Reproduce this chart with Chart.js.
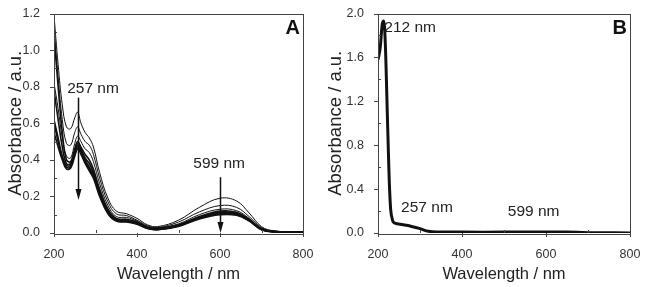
<!DOCTYPE html>
<html>
<head>
<meta charset="utf-8">
<script src="https://cdn.jsdelivr.net/npm/chart.js@4.4.0/dist/chart.umd.min.js"></script>
<style>
  body { margin: 0; background: #fff; }
  .panel { position: absolute; top: 0; height: 287px; }
  #wrapA { left: 0; width: 320px; }
  #wrapB { left: 320px; width: 327px; }
</style>
</head>
<body>
<div class="panel" id="wrapA"><canvas id="chartA" width="320" height="287"></canvas></div>
<div class="panel" id="wrapB"><canvas id="chartB" width="327" height="287"></canvas></div>
<script>
// panel A: spectra over time
const wlA = [200,210,220,230,240,250,257,265,275,285,295,310,330,350,375,400,425,450,500,550,600,640,670,700,730,800];
const a1 = [1.19,0.92,0.70,0.58,0.57,0.63,0.66,0.60,0.55,0.52,0.47,0.33,0.19,0.12,0.105,0.08,0.045,0.035,0.07,0.14,0.19,0.175,0.11,0.035,0.012,0.005];
const a2 = [1.12,0.85,0.62,0.49,0.48,0.55,0.58,0.54,0.50,0.48,0.43,0.30,0.17,0.105,0.095,0.07,0.04,0.03,0.06,0.115,0.15,0.14,0.09,0.03,0.01,0.005];
const a3 = [0.82,0.68,0.52,0.42,0.41,0.49,0.53,0.50,0.46,0.44,0.39,0.27,0.15,0.09,0.085,0.065,0.035,0.028,0.05,0.10,0.13,0.122,0.08,0.025,0.01,0.005];
const a4 = [1.08,0.80,0.55,0.40,0.39,0.46,0.50,0.47,0.43,0.40,0.35,0.24,0.13,0.08,0.075,0.06,0.032,0.025,0.045,0.09,0.12,0.113,0.075,0.022,0.008,0.004];
const a5 = [0.78,0.62,0.47,0.38,0.38,0.45,0.49,0.46,0.41,0.38,0.33,0.23,0.12,0.075,0.07,0.055,0.03,0.022,0.042,0.085,0.115,0.108,0.072,0.02,0.008,0.004];
const a6 = [0.62,0.52,0.42,0.37,0.37,0.44,0.48,0.45,0.40,0.36,0.32,0.22,0.115,0.07,0.065,0.052,0.028,0.02,0.04,0.082,0.11,0.104,0.07,0.02,0.007,0.004];
const a7 = [0.60,0.50,0.41,0.36,0.36,0.43,0.47,0.44,0.39,0.35,0.31,0.21,0.11,0.068,0.063,0.05,0.026,0.019,0.038,0.08,0.105,0.10,0.068,0.019,0.007,0.004];
const a8 = [0.55,0.47,0.40,0.35,0.355,0.42,0.46,0.43,0.38,0.34,0.30,0.20,0.105,0.065,0.06,0.048,0.025,0.018,0.036,0.077,0.10,0.097,0.066,0.018,0.006,0.003];
const seriesA = [a1, a2, a3, a4, a5, a6, a7, a8];
const widthsA = [1, 1, 1, 1.6, 1.6, 1.6, 1.6, 1.6];

// panel B: single spectrum
const wlB = [200,205,210,213,216,220,225,230,235,240,260,280,300,320,350,400,500,600,650,700,800];
const b1 = [1.58,1.68,1.90,1.93,1.85,1.40,0.70,0.22,0.11,0.09,0.075,0.06,0.04,0.015,0.01,0.008,0.008,0.01,0.009,0.003,0.001];

const xTicks = [200, 400, 600, 800];
const xMinor = [300, 500, 700];
const yTicksA = [0, 0.2, 0.4, 0.6, 0.8, 1.0, 1.2];
const yMinorA = [0.1, 0.3, 0.5, 0.7, 0.9, 1.1];
const yTicksB = [0, 0.4, 0.8, 1.2, 1.6, 2.0];
const yMinorB = [0.2, 0.6, 1.0, 1.4, 1.8];

const fontFam = "'Liberation Sans', Arial, sans-serif";

function frame(ticksX, minorX, ticksY, minorY, notes, arrows, letter) {
  return {
    id: 'frame',
    afterDraw(chart) {
      const c = chart.ctx, a = chart.chartArea;
      const sx = chart.scales.x, sy = chart.scales.y;
      c.save();
      c.strokeStyle = '#444';
      c.lineWidth = 1;
      c.strokeRect(Math.round(a.left) + 0.5, Math.round(a.top) + 0.5, Math.round(a.right - a.left), Math.round(a.bottom - a.top));
      c.beginPath();
      ticksX.forEach(v => { const p = Math.round(sx.getPixelForValue(v)) + 0.5; c.moveTo(p, a.bottom); c.lineTo(p, a.bottom + 4); });
      minorX.forEach(v => { const p = Math.round(sx.getPixelForValue(v)) + 0.5; c.moveTo(p, a.bottom); c.lineTo(p, a.bottom - 3); });
      ticksY.forEach(v => { const p = Math.round(sy.getPixelForValue(v)) + 0.5; c.moveTo(a.left, p); c.lineTo(a.left - 4, p); });
      minorY.forEach(v => { const p = Math.round(sy.getPixelForValue(v)) + 0.5; c.moveTo(a.left, p); c.lineTo(a.left + 3, p); });
      c.stroke();

      c.fillStyle = '#222';
      c.font = '15.5px ' + fontFam;
      c.textBaseline = 'middle';
      notes.forEach(n => {
        c.textAlign = n.align || 'center';
        c.fillText(n.text, sx.getPixelForValue(n.x), sy.getPixelForValue(n.y));
      });
      arrows.forEach(ar => {
        const x = Math.round(sx.getPixelForValue(ar.x)) + 0.5;
        const y1 = sy.getPixelForValue(ar.y1), y2 = sy.getPixelForValue(ar.y2);
        c.strokeStyle = '#111';
        c.lineWidth = 1.5;
        c.beginPath(); c.moveTo(x, y1); c.lineTo(x, y2 - 8); c.stroke();
        c.fillStyle = '#111';
        c.beginPath(); c.moveTo(x - 3, y2 - 11); c.lineTo(x + 3, y2 - 11); c.lineTo(x, y2); c.closePath(); c.fill();
      });
      c.fillStyle = '#111';
      c.font = 'bold 20px ' + fontFam;
      c.textAlign = 'right';
      c.fillText(letter, a.right - 3, a.top + 15);
      c.restore();
    }
  };
}

function makeChart(id, wl, series, widths, yMax, yStep, yWidth, plugin) {
  const ds = series.map((s, i) => ({
    data: wl.map((w, j) => ({ x: w, y: s[j] })),
    borderColor: '#111',
    borderWidth: widths[i],
    pointRadius: 0,
    tension: 0.4,
    fill: false
  }));
  return new Chart(document.getElementById(id), {
    type: 'line',
    data: { datasets: ds },
    options: {
      responsive: false,
      animation: false,
      events: [],
      layout: { padding: { top: 13, right: 17, left: 0, bottom: 0 } },
      plugins: { legend: { display: false }, tooltip: { enabled: false } },
      scales: {
        x: {
          type: 'linear', min: 200, max: 800,
          grid: { display: false }, border: { display: false },
          afterFit: s => { s.height = 54; },
          ticks: { stepSize: 200, padding: 6, color: '#333', font: { family: fontFam, size: 12.5 } },
          title: { display: true, text: 'Wavelength / nm', color: '#222', padding: { top: 0, bottom: 3 }, font: { family: fontFam, size: 16.5 } }
        },
        y: {
          min: 0, max: yMax,
          grid: { display: false }, border: { display: false },
          afterFit: s => { s.width = yWidth; },
          ticks: { stepSize: yStep, padding: 6, color: '#333', font: { family: fontFam, size: 12.5 }, callback: v => v.toFixed(1) },
          title: { display: true, text: 'Absorbance / a.u.', color: '#222', padding: { top: 5, bottom: 0 }, font: { family: fontFam, size: 18.5 } }
        }
      }
    },
    plugins: [plugin]
  });
}

makeChart('chartA', wlA, seriesA, widthsA, 1.2, 0.2, 54,
  frame(xTicks, xMinor, yTicksA, yMinorA,
    [{ text: '257 nm', x: 294, y: 0.79 }, { text: '599 nm', x: 598, y: 0.38 }],
    [{ x: 257, y1: 0.74, y2: 0.18 }, { x: 599, y1: 0.305, y2: 0.0 }],
    'A'));

makeChart('chartB', wlB, [b1], [3], 2.0, 0.4, 58,
  frame(xTicks, xMinor, yTicksB, yMinorB,
    [{ text: '212 nm', x: 215, y: 1.87, align: 'left' }, { text: '257 nm', x: 255, y: 0.23, align: 'left' }, { text: '599 nm', x: 509, y: 0.19, align: 'left' }],
    [],
    'B'));
</script>
</body>
</html>
